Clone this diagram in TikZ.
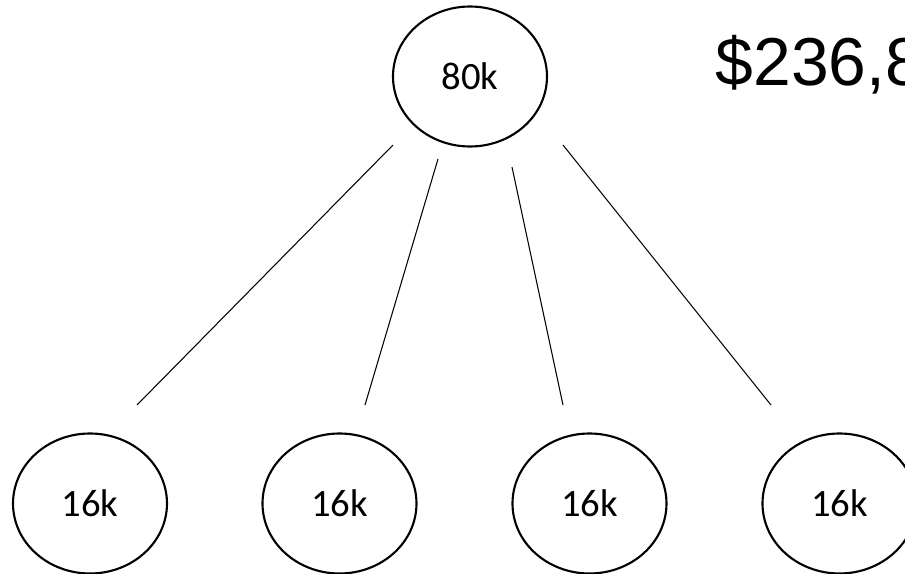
\documentclass[tikz,border=0pt]{standalone}
\usepackage{fontspec}
\setmainfont{Carlito}
\newfontfamily\pricefont{Liberation Sans}
\usetikzlibrary{shapes.geometric}

\begin{document}
\begin{tikzpicture}[bubble/.style={draw, ellipse, semithick, minimum width=1.54cm, minimum height=1.4cm, inner sep=0pt, font=\fontsize{11}{13}\selectfont}]
    \clip(0, 0)rectangle(9.05, -5.74);
    \node[bubble](root) at (4.70, -.765){80k};
    \foreach \i/\x in {1/.90, 2/3.395, 3/5.895, 4/8.395}
        \node[bubble](leaf\i) at (\x, -5.035){16k};
    \node[anchor=base west, inner sep=0pt, font=\pricefont\fontsize{19.3}{22}\selectfont](price) at (7.15, -.85){\$236,8};
    % free ends of the branches
    \coordinate(r1) at (3.93, -1.45);
    \coordinate(r2) at (4.38, -1.59);
    \coordinate(r3) at (5.12, -1.67);
    \coordinate(r4) at (5.63, -1.45);
    \coordinate(l1) at (1.37, -4.05);
    \coordinate(l2) at (3.65, -4.05);
    \coordinate(l3) at (5.63, -4.05);
    \coordinate(l4) at (7.71, -4.05);
    \foreach \i in {1, 2, 3, 4}
        \draw[line width=.3pt](r\i)--(l\i);
\end{tikzpicture}
\end{document}
